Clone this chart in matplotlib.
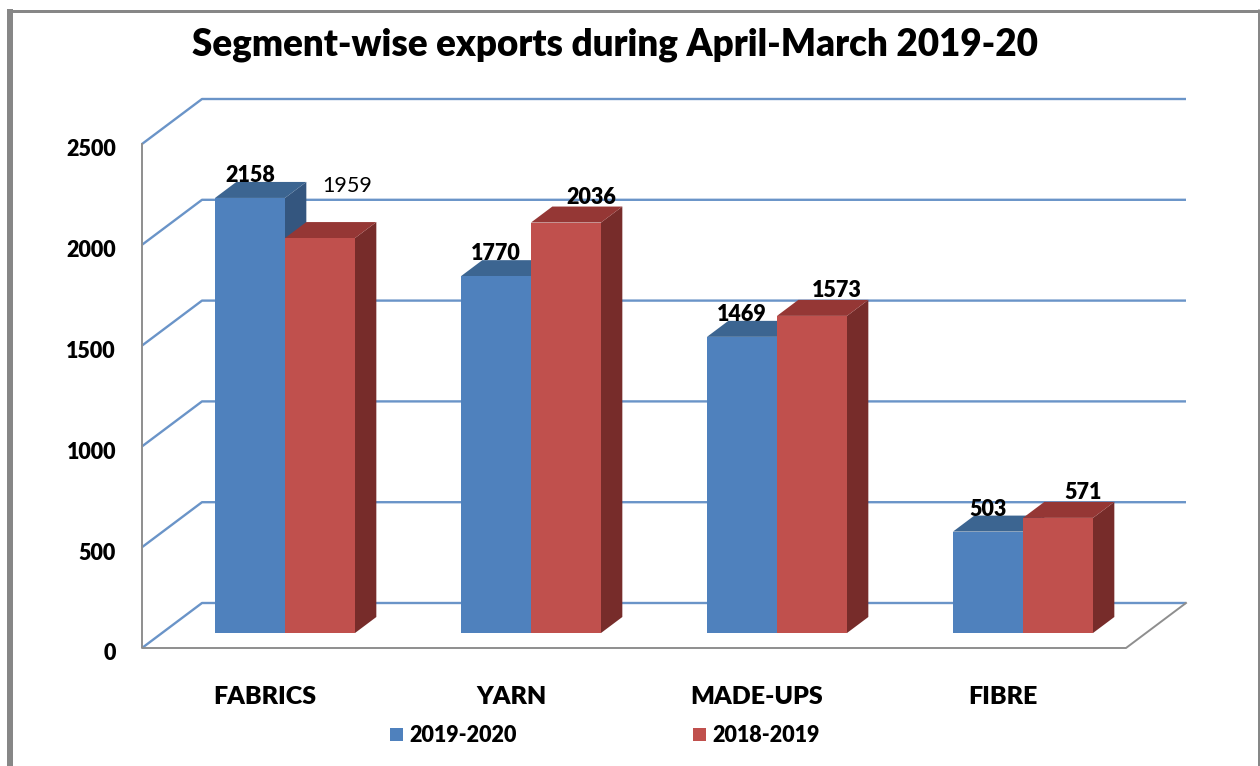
import matplotlib
matplotlib.use("Agg")
import matplotlib.pyplot as plt
from matplotlib.patches import Polygon, Rectangle
from matplotlib.lines import Line2D

# ---------------- data ----------------
categories = ["FABRICS", "YARN", "MADE-UPS", "FIBRE"]
series_names = ["2019-2020", "2018-2019"]
values_2019_20 = [2158, 1770, 1469, 503]
values_2018_19 = [1959, 2036, 1573, 571]
y_ticks = [0, 500, 1000, 1500, 2000, 2500]
title = "Segment-wise exports during April-March 2019-20"

# ---------------- style / layout ----------------
FONT = "Lato"
plt.rcParams["font.family"] = [FONT, "DejaVu Sans"]
WEIGHT = "heavy"
W, H = 1260, 766
DPI = 100
PX_PER_CAT = 246.0         # horizontal pixels per category
PX_PER_UNIT = 0.2016       # vertical pixels per value unit
ORIGIN_PX = (285.0, 633.0) # pixel of (category 0, value 0) on the bar plane
BAR_W = 70.0 / PX_PER_CAT
D_FRONT, D_BACK, D_BAR = -15.0, 30.0, 16.0  # oblique depths (px)
KX = 4.0 / 3.0                              # horizontal px per depth px

face_cols = [("#4F81BD", "#3C6591", "#34567F"),   # front, top, side
             ("#C0504D", "#953735", "#772C2A")]
grid_col = "#6A94C8"
axis_col = "#8E8E8E"

fig = plt.figure(figsize=(W / DPI, H / DPI), dpi=DPI)
ax = fig.add_axes([0, 0, 1, 1])
ax.set_xlim(-ORIGIN_PX[0] / PX_PER_CAT, (W - ORIGIN_PX[0]) / PX_PER_CAT)
ax.set_ylim((ORIGIN_PX[1] - H) / PX_PER_UNIT, ORIGIN_PX[1] / PX_PER_UNIT)
ax.axis("off")


def P(x, v, d=0.0, sx=0.0, sy=0.0):
    """data point at category-x, value v, depth d (px), extra screen shift (px)"""
    return (x + (KX * d + sx) / PX_PER_CAT, v + (d - sy) / PX_PER_UNIT)


x_lo, x_hi = -0.5, len(categories) - 0.5

# back-wall gridlines + left diagonals
for t in y_ticks:
    xs, ys = zip(P(x_lo, t, D_FRONT), P(x_lo, t, D_BACK), P(x_hi, t, D_BACK))
    ax.plot(xs, ys, color=grid_col, lw=1.7, solid_capstyle="butt", zorder=1)

# front axis & floor edges
xs, ys = zip(P(x_lo, y_ticks[-1], D_FRONT), P(x_lo, 0, D_FRONT),
             P(x_hi, 0, D_FRONT), P(x_hi, 0, D_BACK))
ax.plot(xs, ys, color=axis_col, lw=1.4, zorder=2)

# y tick labels
for t in y_ticks:
    x, y = P(x_lo, t, D_FRONT, sx=-26, sy=6)
    ax.text(x, y, f"{t}", ha="right", va="center", fontsize=15.5,
            fontweight=WEIGHT, color="black")

# bars
z = 3
for i in range(len(categories)):
    for s, vals in enumerate([values_2019_20, values_2018_19]):
        v = vals[i]
        x0 = i - BAR_W + s * BAR_W
        x1 = x0 + BAR_W
        front, top, side = face_cols[s]
        side_poly = [P(x1, 0), P(x1, 0, D_BAR), P(x1, v, D_BAR), P(x1, v)]
        top_poly = [P(x0, v), P(x0, v, D_BAR), P(x1, v, D_BAR), P(x1, v)]
        ax.add_patch(Polygon(side_poly, closed=True, fc=side, ec="none", zorder=z))
        ax.add_patch(Polygon(top_poly, closed=True, fc=top, ec="none", zorder=z))
        ax.add_patch(Rectangle((x0, 0), BAR_W, v, fc=front, ec="none", zorder=z))
        z += 1

# data labels
label_fs = 15.5
for i, v in enumerate(values_2019_20):
    x, y = P(i - BAR_W / 2, v, D_BAR, sx=-KX * D_BAR)
    ax.text(x, y, f"{v}", ha="center", va="baseline", fontsize=label_fs,
            fontweight=WEIGHT, zorder=20)
for i, v in enumerate(values_2018_19):
    if i == 0:  # this label was dragged away & is not bold in the original
        x, y = P(i + BAR_W / 2, v, D_BAR, sx=27 - KX * D_BAR, sy=-30)
        ax.text(x, y, f"{v}", ha="center", va="baseline", fontsize=label_fs,
                fontweight="normal", zorder=20)
    else:
        x, y = P(i + BAR_W / 2, v, D_BAR, sx=25 - KX * D_BAR, sy=-3)
        ax.text(x, y, f"{v}", ha="center", va="baseline", fontsize=label_fs,
                fontweight=WEIGHT, zorder=20)

# category labels
for i, c in enumerate(categories):
    x, y = P(i, 0, D_FRONT, sy=49)
    ax.text(x, y, c, ha="center", va="center", fontsize=18, fontweight=WEIGHT)

# title
fig.text(615 / W, 1 - 45 / H, title, ha="center", va="center",
         fontsize=26.5, fontweight=WEIGHT)

# legend (manual, figure pixel positions)
leg_items = [(390, series_names[0], face_cols[0][0]),
             (693, series_names[1], face_cols[1][0])]
for xp, name, col in leg_items:
    fig.add_artist(Rectangle((xp / W, 1 - 741 / H), 13 / W, 13 / H,
                             transform=fig.transFigure, fc=col, ec="none"))
    fig.text((xp + 19) / W, 1 - 736 / H, name, ha="left", va="center",
             fontsize=15.5, fontweight=WEIGHT)

# outer frame (gray border, open at the bottom)
def fline(x0, y0, x1, y1, lw_px):
    fig.add_artist(Line2D([x0 / W, x1 / W], [1 - y0 / H, 1 - y1 / H],
                          transform=fig.transFigure, color="#878787",
                          lw=lw_px * 72 / DPI, solid_capstyle="butt"))

fline(10, 9, 10, H, 6)
fline(7, 10.5, 1260, 10.5, 3)
fline(1258.5, 9, 1258.5, H, 3)

fig.savefig("out.png", dpi=DPI)
